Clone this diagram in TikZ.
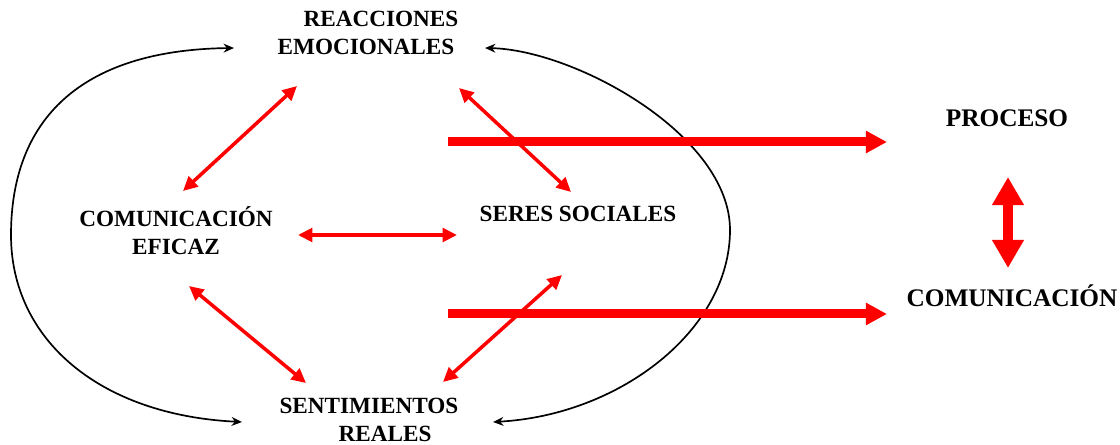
\documentclass[tikz,border=0pt]{standalone}
\usepackage{fontspec}
\setmainfont{Liberation Serif}
\usetikzlibrary{arrows.meta,positioning}

\begin{document}
\begin{tikzpicture}[%
    x=0.025cm,
    y=-0.025cm,
    lbl/.style={align=center, inner sep=0pt, anchor=south, font={\bfseries\fontsize{16.5}{19.9}\selectfont}},
    big/.style={lbl, font={\bfseries\fontsize{18}{21}\selectfont}},
    rel/.style={{Triangle[length=3.6mm,width=3.4mm]}-{Triangle[length=3.6mm,width=3.4mm]}, red, line width=2.5pt},
    flecha/.style={-{Triangle[length=5.3mm,width=5.3mm]}, red, line width=6.4pt},
    doble/.style={{Triangle[length=7mm,width=7.5mm]}-{Triangle[length=7mm,width=7.5mm]}, red, line width=7.8pt},
    ciclo/.style={{Stealth[length=2.6mm,width=2.2mm]}-{Stealth[length=2.6mm,width=2.2mm]}, line width=1.2pt}
    ]

    \useasboundingbox (0,0) rectangle (1120,445);

    \node[lbl] (reac) at (366,55) {\hspace*{0.75cm}REACCIONES\\EMOCIONALES};
    \node[lbl] (comu) at (176,255) {COMUNICACIÓN\\EFICAZ};
    \node[lbl] (seres) at (578,222) {SERES SOCIALES};
    \node[lbl] (senti) at (369,442) {SENTIMIENTOS\\\hspace*{0.8cm}REALES};

    \node[big] (proc) at (1007,127) {PROCESO};
    \node[big] (comun) at (1012,307) {COMUNICACIÓN};

    % black loops round the four labels
    \draw[ciclo] ([shift={(-132,-7)}]reac.south) .. controls (80,50) and (11,120) .. (11,235)
        .. controls (11,340) and (100,415) .. ([shift={(-127,-20)}]senti.south);
    \draw[ciclo] ([shift={(119,-7)}]reac.south) .. controls (575,50) and (730,135) .. (730,230)
        .. controls (730,330) and (620,415) .. ([shift={(124,-20)}]senti.south);

    \draw[rel] ([shift={(-69,31)}]reac.south) -- ([shift={(7,-64)}]comu.south);
    \draw[rel] ([shift={(93,33)}]reac.south) -- ([shift={(-7,-30)}]seres.south);
    \draw[rel] ([shift={(122,-20)}]comu.south) -- ([shift={(-121,13)}]seres.south);
    \draw[rel] ([shift={(13,31)}]comu.south) -- ([shift={(-63,-59)}]senti.south);
    \draw[rel] ([shift={(74,-60)}]senti.south) -- ([shift={(-16,53)}]seres.south);

    \coordinate (a1) at (448,142);
    \coordinate (a2) at (448,314);
    \draw[flecha] (a1) -- ([shift={(-120,15)}]proc.south);
    \draw[flecha] (a2) -- ([shift={(-125,7)}]comun.south);

    \draw[doble] ([shift={(1,50)}]proc.south) -- ([shift={(-4,-39)}]comun.south);

\end{tikzpicture}
\end{document}
